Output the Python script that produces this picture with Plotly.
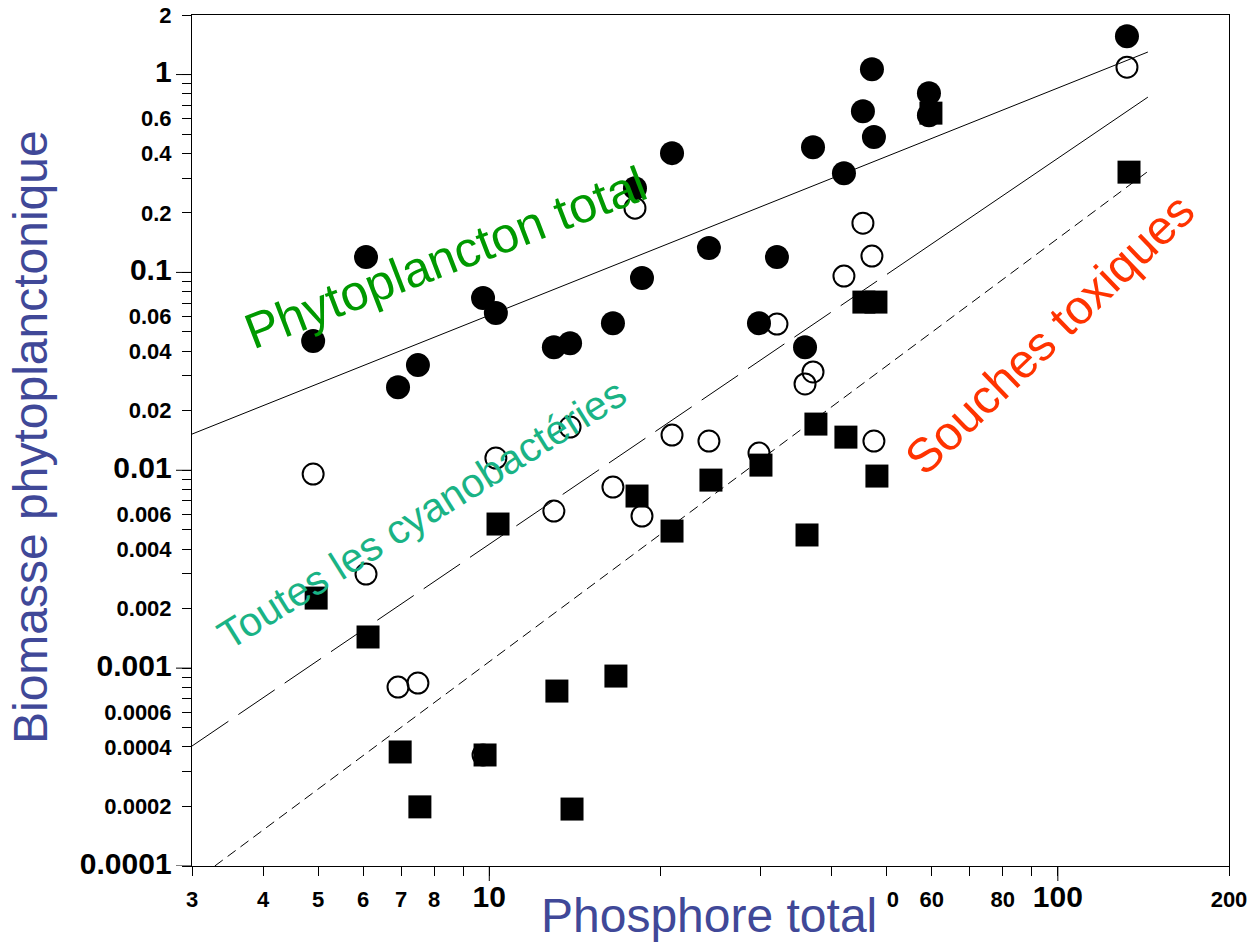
import plotly.graph_objects as go

# ---------------- data ----------------
# Phytoplancton total (filled circles)
tot_x = [4.90, 6.07, 6.91, 7.49, 9.75, 10.27, 12.99, 13.87, 16.50, 18.04, 18.56, 20.96,
         24.34, 29.81, 32.06, 35.92, 37.10, 42.05, 45.41, 47.10, 47.48, 59.33, 59.33, 132.3]
tot_y = [0.0450, 0.1195, 0.0263, 0.0340, 0.0742, 0.0623, 0.0419, 0.0439, 0.0554, 0.2667, 0.0936, 0.4008,
         0.1327, 0.0554, 0.1195, 0.0419, 0.4297, 0.3175, 0.6532, 1.065, 0.4829, 0.8051, 0.6235, 1.563]

# Toutes les cyanobactéries (open circles)
cya_x = [4.90, 6.07, 6.91, 7.49, 9.75, 10.27, 12.99, 13.87, 16.50, 18.04, 18.56, 20.96,
         24.34, 29.81, 32.06, 35.92, 37.10, 42.05, 45.41, 47.10, 47.48, 59.33, 132.3]
cya_y = [0.00957, 0.00299, 0.000802, 0.000841, 0.000364, 0.01153, 0.00622, 0.01653, 0.00823, 0.2113, 0.00587, 0.01506,
         0.01405, 0.01221, 0.0548, 0.0273, 0.0314, 0.0958, 0.1774, 0.1209, 0.01405, 0.6235, 1.090]

# Souches toxiques (filled squares)
tox_x = [4.96, 6.12, 6.97, 7.55, 9.83, 10.36, 13.15, 13.98, 16.70, 18.19, 20.96, 24.54,
         30.05, 36.21, 37.54, 42.39, 45.59, 47.87, 48.06, 59.81, 133.4]
tox_y = [0.00226, 0.001437, 0.000377, 0.000199, 0.000364, 0.00535, 0.000766, 0.000194, 0.000912, 0.00741, 0.00493, 0.00892,
         0.01062, 0.00471, 0.01712, 0.01471, 0.0708, 0.0708, 0.00935, 0.6383, 0.3212]

# regression lines (end points)
fit_tot_x = [3.0, 144.0]
fit_tot_y = [0.01524, 1.30]
fit_cya_dash_x = [3.0, 53.4]
fit_cya_dash_y = [0.000404, 0.111]
fit_cya_solid_x = [53.4, 144.0]
fit_cya_solid_y = [0.111, 0.769]
fit_tox_x = [3.29, 143.4]
fit_tox_y = [0.0001, 0.321]

# axis ticks
x_tickvals = [3, 4, 5, 6, 7, 8, 9, 10, 20, 30, 40, 50, 60, 70, 80, 90, 100, 200]
x_ticktext = ["3", "4", "5", "6", "7", "8", "", "10", "", "", "", "50", "60", "", "80", "", "100", "200"]
x_decades = [10, 100]

y_tickvals = []
y_ticktext = []
for dec, lab in [(0.0001, ["0.0001", "0.0002", "", "0.0004", "", "0.0006", "", "", ""]),
                 (0.001, ["0.001", "0.002", "", "0.004", "", "0.006", "", "", ""]),
                 (0.01, ["0.01", "0.02", "", "0.04", "", "0.06", "", "", ""]),
                 (0.1, ["0.1", "0.2", "", "0.4", "", "0.6", "", "", ""]),
                 (1.0, ["1", "2"])]:
    for k, t in enumerate(lab):
        y_tickvals.append(round(dec * (k + 1), 6))
        y_ticktext.append(t)
y_decades = [0.0001, 0.001, 0.01, 0.1, 1]

FONT = "Arial, Liberation Sans, sans-serif"
BIG = 30
SMALL = 22


def fmt(t, decades_txt):
    if t in decades_txt:
        return f"<b><span style='font-size:{BIG}px'>{t}</span></b>"
    return f"<b>{t}</b>" if t else ""


x_ticktext_f = [fmt(t, ["10", "100"]) for t in x_ticktext]
y_ticktext_f = [fmt(t, ["0.0001", "0.001", "0.01", "0.1", "1"]) for t in y_ticktext]

fig = go.Figure()

line_style = dict(color="black", width=1)
fig.add_trace(go.Scatter(x=fit_tot_x, y=fit_tot_y, mode="lines", line=line_style, showlegend=False))
fig.add_trace(go.Scatter(x=fit_cya_dash_x, y=fit_cya_dash_y, mode="lines",
                         line=dict(color="black", width=1, dash="44px,12px"), showlegend=False))
fig.add_trace(go.Scatter(x=fit_cya_solid_x, y=fit_cya_solid_y, mode="lines", line=line_style, showlegend=False))
fig.add_trace(go.Scatter(x=fit_tox_x, y=fit_tox_y, mode="lines",
                         line=dict(color="black", width=1, dash="10px,6px"), showlegend=False))

fig.add_trace(go.Scatter(x=tot_x, y=tot_y, mode="markers",
                         marker=dict(symbol="circle", size=24, color="black", line=dict(width=0)),
                         showlegend=False))
fig.add_trace(go.Scatter(x=cya_x, y=cya_y, mode="markers",
                         marker=dict(symbol="circle-open", size=21, color="black", line=dict(width=2, color="black")),
                         showlegend=False))
fig.add_trace(go.Scatter(x=tox_x, y=tox_y, mode="markers",
                         marker=dict(symbol="square", size=23, color="black", line=dict(width=0)),
                         showlegend=False))

# long decade ticks
shapes = []
for v in x_decades:
    shapes.append(dict(type="line", xref="x", yref="paper", x0=v, x1=v, y0=0, y1=-15 / 851,
                       line=dict(color="black", width=1)))
for v in y_decades:
    shapes.append(dict(type="line", xref="paper", yref="y", x0=0, x1=-16 / 1037, y0=v, y1=v,
                       line=dict(color="black", width=1)))

common = dict(xref="paper", yref="paper", showarrow=False, xanchor="center", yanchor="middle")
annotations = [
    dict(text="Phytoplancton total", x=0.2440, y=0.7145, textangle=-21,
         font=dict(family=FONT, size=50, color="#009900"), **common),
    dict(text="Toutes les cyanobactéries", x=0.2218, y=0.4136, textangle=-32,
         font=dict(family=FONT, size=41, color="#1AB385"), **common),
    dict(text="Souches toxiques", x=0.8265, y=0.6251, textangle=-44,
         font=dict(family=FONT, size=48, color="#FF3300"), **common),
    dict(text="Phosphore total", x=0.4986, y=-0.0587, bgcolor="white", borderpad=9,
         font=dict(family=FONT, size=48, color="#404898"), **common),
    dict(text="Biomasse phytoplanctonique", x=-0.1562, y=0.5041, textangle=-90,
         font=dict(family=FONT, size=48, color="#404898"), **common),
]

fig.update_layout(
    width=1255, height=948,
    margin=dict(l=192, r=26, t=15, b=82, autoexpand=False),
    paper_bgcolor="white", plot_bgcolor="white",
    font=dict(family=FONT, color="black"),
    shapes=shapes, annotations=annotations,
    xaxis=dict(type="log", range=[0.47712, 2.30103], tickmode="array", automargin=False,
               tickvals=x_tickvals, ticktext=x_ticktext_f, ticks="outside", ticklen=9,
               tickcolor="black", tickwidth=1, showgrid=False, zeroline=False,
               showline=True, linecolor="black", linewidth=1, mirror=True,
               tickfont=dict(family=FONT, size=SMALL, color="black"), ticklabelstandoff=5),
    yaxis=dict(type="log", range=[-4, 0.30103], tickmode="array", automargin=False,
               tickvals=y_tickvals, ticktext=y_ticktext_f, ticks="outside", ticklen=9,
               tickcolor="black", tickwidth=1, showgrid=False, zeroline=False,
               showline=True, linecolor="black", linewidth=1, mirror=True,
               tickfont=dict(family=FONT, size=SMALL, color="black"), ticklabelstandoff=6),
)

fig.write_html("out.html")
